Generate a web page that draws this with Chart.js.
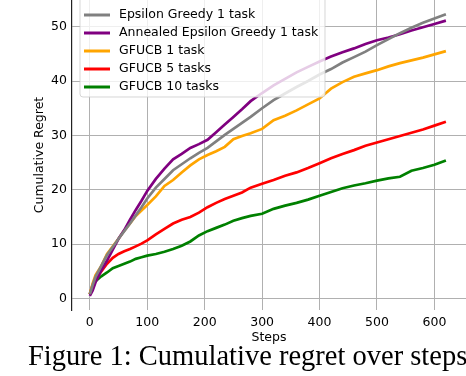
<!DOCTYPE html>
<html>
<head>
<meta charset="utf-8">
<script src="https://cdn.jsdelivr.net/npm/chart.js@4"></script>
<style>
  html, body { margin: 0; padding: 0; background: #fff; }
  #wrap { position: relative; width: 466px; height: 376px; overflow: hidden; }
  #wrap canvas { position: absolute; left: 0; top: 0; }
  #caption {
    position: absolute; left: 28px; top: 340px; white-space: nowrap;
    font-family: "Liberation Serif", "DejaVu Serif", serif; font-size: 28.5px; line-height: 32px; color: #000;
  }
</style>
</head>
<body>
<div id="wrap">
  <canvas id="regretChart" width="466" height="376"></canvas>
  <div id="caption">Figure 1: Cumulative regret over steps</div>
</div>
<script>
// valeurs
const steps = [0, 5, 10, 20, 30, 40, 50, 60, 70, 80, 90, 100, 115, 130, 145, 160, 175, 190, 205, 220,
  235, 250, 265, 280, 300, 320, 340, 360, 380, 400, 420, 440, 460, 480, 500, 520, 540, 560, 580, 600, 620];

const epsGreedy = [0.8, 2.5, 4.0, 6.0, 8.0, 9.5, 11.0, 12.4, 13.8, 15.3, 16.8, 18.4, 20.4, 22.0, 23.6, 24.7, 25.8, 26.8, 27.7, 28.9,
  30.1, 31.2, 32.3, 33.4, 35.0, 36.5, 37.7, 38.9, 40.0, 41.2, 42.2, 43.4, 44.4, 45.4, 46.6, 47.7, 48.8, 49.8, 50.7, 51.5, 52.3];

const annealedEps = [0.5, 1.5, 3.0, 5.2, 7.0, 9.0, 11.0, 12.6, 14.5, 16.3, 18.0, 19.8, 22.0, 23.9, 25.6, 26.6, 27.7, 28.4, 29.2, 30.6,
  32.0, 33.4, 34.8, 36.3, 37.8, 39.2, 40.4, 41.6, 42.6, 43.6, 44.5, 45.3, 46.0, 46.8, 47.5, 48.0, 48.6, 49.3, 49.9, 50.5, 51.1];

const gfucb1 = [0.8, 2.8, 4.3, 6.0, 8.2, 9.6, 11.0, 12.5, 13.8, 15.2, 16.2, 17.2, 18.8, 20.7, 21.8, 23.2, 24.5, 25.6, 26.4, 27.1,
  27.9, 29.3, 29.9, 30.4, 31.2, 32.8, 33.6, 34.6, 35.7, 36.8, 38.6, 39.8, 40.8, 41.4, 42.0, 42.7, 43.3, 43.8, 44.3, 44.9, 45.5];

const gfucb5 = [0.8, 2.5, 3.6, 5.0, 6.4, 7.5, 8.2, 8.7, 9.1, 9.6, 10.1, 10.7, 11.8, 12.8, 13.8, 14.5, 15.0, 15.8, 16.8, 17.6,
  18.3, 18.9, 19.5, 20.4, 21.1, 21.8, 22.6, 23.2, 24.0, 24.9, 25.8, 26.6, 27.3, 28.1, 28.7, 29.3, 29.9, 30.5, 31.1, 31.8, 32.5];

const gfucb10 = [0.8, 2.2, 3.2, 4.1, 4.8, 5.6, 6.0, 6.4, 6.8, 7.3, 7.6, 7.9, 8.2, 8.6, 9.1, 9.7, 10.5, 11.6, 12.4, 13.0,
  13.6, 14.3, 14.8, 15.2, 15.6, 16.5, 17.1, 17.6, 18.2, 18.9, 19.6, 20.3, 20.8, 21.2, 21.7, 22.1, 22.4, 23.5, 24.0, 24.6, 25.4];

const seriesNames = ["Epsilon Greedy 1 task", "Annealed Epsilon Greedy 1 task", "GFUCB 1 task", "GFUCB 5 tasks", "GFUCB 10 tasks"];
const seriesColors = ["#808080", "#800080", "#ffa500", "#ff0000", "#008000"];
const seriesValues = [epsGreedy, annealedEps, gfucb1, gfucb5, gfucb10];

const xTicks = [0, 100, 200, 300, 400, 500, 600];
const yTicks = [0, 10, 20, 30, 40, 50];

const FONT = "'DejaVu Sans', sans-serif";

// legende dessinee dans la zone du graphique (fond blanc semi-transparent)
const boxLegend = {
  id: 'boxLegend',
  afterDraw(chart) {
    const ctx = chart.ctx;
    const x0 = 80, y0 = -6, w = 245, h = 103;
    ctx.save();
    ctx.beginPath();
    ctx.roundRect(x0, y0, w, h, 3);
    ctx.fillStyle = 'rgba(255,255,255,0.8)';
    ctx.fill();
    ctx.strokeStyle = 'rgba(204,204,204,0.8)';
    ctx.lineWidth = 1;
    ctx.stroke();
    ctx.font = "12.5px " + FONT;
    ctx.textBaseline = 'middle';
    ctx.fillStyle = '#000';
    chart.data.datasets.forEach((ds, i) => {
      const y = 15 + i * 18;
      ctx.beginPath();
      ctx.moveTo(84, y);
      ctx.lineTo(110, y);
      ctx.strokeStyle = ds.borderColor;
      ctx.lineWidth = 3;
      ctx.stroke();
      ctx.fillText(ds.label, 119, y);
    });
    ctx.restore();
  }
};

new Chart(document.getElementById("regretChart"), {
  type: 'line',
  data: {
    datasets: seriesNames.map((name, i) => ({
      label: name,
      data: steps.map((s, j) => ({ x: s, y: seriesValues[i][j] })),
      borderColor: seriesColors[i],
      backgroundColor: seriesColors[i],
      borderWidth: 2.7,
      pointRadius: 0,
      tension: 0
    }))
  },
  options: {
    responsive: false,
    animation: false,
    layout: { padding: 0 },
    plugins: { legend: { display: false }, tooltip: { enabled: false } },
    scales: {
      x: {
        type: 'linear',
        min: -31,
        max: 655,
        afterBuildTicks: (scale) => { scale.ticks = xTicks.map(v => ({ value: v })); },
        afterFit: (scale) => { scale.height = 66; scale.paddingLeft = 0; scale.paddingRight = 0; },
        grid: { color: '#b0b0b0', lineWidth: 1, drawTicks: false },
        border: { display: false },
        ticks: { padding: 5, color: '#000', font: { family: FONT, size: 12.5 }, maxRotation: 0 },
        title: { display: true, text: 'Steps', color: '#000', font: { family: FONT, size: 12.5 }, padding: { top: 0, bottom: 31 } }
      },
      y: {
        min: -2.1,
        max: 54.9,
        afterBuildTicks: (scale) => { scale.ticks = yTicks.map(v => ({ value: v })); },
        afterFit: (scale) => { scale.width = 72; scale.paddingTop = 0; scale.paddingBottom = 0; },
        grid: { color: '#b0b0b0', lineWidth: 1, drawTicks: false },
        border: { display: true, color: '#222', width: 1.2 },
        ticks: { padding: 5, color: '#000', font: { family: FONT, size: 12.5 } },
        title: { display: true, text: 'Cumulative Regret', color: '#000', font: { family: FONT, size: 12.5 }, padding: { top: 32, bottom: 0 } }
      }
    }
  },
  plugins: [boxLegend]
});
</script>
</body>
</html>
